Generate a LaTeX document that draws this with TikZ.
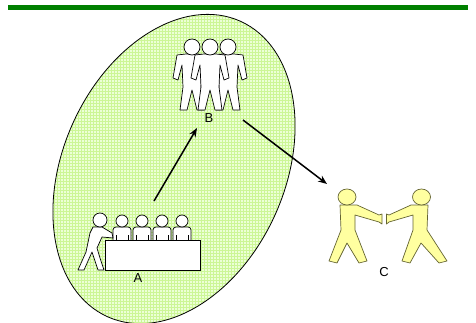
\documentclass[tikz,border=0pt]{standalone}
\usepackage{fontspec}
\setmainfont{Liberation Sans}
\usetikzlibrary{arrows.meta, positioning}
\definecolor{barGreen}{RGB}{0,128,0}
\definecolor{areaFill}{RGB}{236,255,214}
\definecolor{areaGrid}{RGB}{204,246,150}
\definecolor{walkerFill}{RGB}{255,255,160}
\definecolor{walkerLine}{RGB}{100,100,50}

\begin{document}
\begin{tikzpicture}[
    x = 1pt, y = 1pt, > = Stealth,
    person/.style = {draw = black, fill = white, line width = 0.7pt, line join = round},
    walker/.style = {draw = walkerLine, fill = walkerFill, line width = 0.7pt, line join = round},
    desk/.style = {rectangle, draw, fill = white, line width = 0.7pt, inner sep = 0pt, minimum width = 95pt, minimum height = 30pt},
    tag/.style = {inner sep = 1pt, font = \fontsize{13}{15}\selectfont},
    flow/.style = {-{Stealth[length = 9pt, width = 7pt]}, line width = 1.5pt},
    % standing figure, origin in the middle of the head
    standing/.pic = {
        \draw [person] (-6,-7) -- (-15,-8) -- (-19,-31) -- (-14,-33) -- (-10,-18) -- (-9,-40)
            -- (-12,-63) -- (-5,-63) -- (0,-43) -- (5,-63) -- (12,-63) -- (9,-40)
            -- (10,-18) -- (14,-33) -- (19,-31) -- (15,-8) -- (6,-7) -- cycle;
        \draw [person] (0,0) circle [radius = 8pt];
    },
    % figure sitting behind the desk
    seated/.pic = {
        \draw [person] (-9,-20) -- (-9,-9) to [out = 90, in = 180] (-6,-6) -- (6,-6)
            to [out = 0, in = 90] (9,-9) -- (9,-20) -- cycle;
        \draw [line width = 0.7pt] (-6,-14) -- (-6,-19) (6,-14) -- (6,-19);
        \draw [person] (0,0) circle [radius = 6pt];
    },
    ]
    \useasboundingbox (0,0) rectangle (476,322);

    % top rule
    \fill [barGreen] (8,312) rectangle (468,317);

    % shaded region
    \begin{scope}
        \clip [rotate around = {65.8:(174,153)}] (174,153) ellipse [x radius = 162pt, y radius = 111pt];
        \fill [areaFill] (0,0) rectangle (476,322);
        \draw [areaGrid, line width = 0.5pt, step = 3pt] (0,0) grid (476,322);
    \end{scope}
    \draw [line width = 0.8pt, rotate around = {65.8:(174,153)}] (174,153) ellipse [x radius = 162pt, y radius = 111pt];

    % group standing together
    \pic at (192,275) {standing};
    \pic at (228,275) {standing};
    \pic at (210,275) {standing};
    \node [tag] (B) at (209,204) {B};

    % people at the desk
    \foreach \x in {122,142,162,182}
        \pic at (\x,101) {seated};
    \draw [person] (93,95) -- (102,95) -- (112,89) -- (113,84) -- (102,85) -- (97,74)
        -- (100,64) -- (104,52) -- (98,52) -- (94,64) -- (92,70) -- (84,52) -- (78,52)
        -- (86,70) -- (90,89) -- cycle;
    \draw [person] (100,102) circle [radius = 7pt];
    \node [desk] (table) at (152.5,67) {};
    \node [tag] (A) at (138,44) {A};

    % the two walkers
    \draw [walker] (340,117) -- (341,92) -- (329,61) -- (337,59) -- (347,79) -- (359,59)
        -- (367,61) -- (355,92) -- (355,107) -- (379,100) -- (382,98) -- (382,108)
        -- (379,107) -- (357,117) -- cycle;
    \draw [walker] (347,125) ellipse [x radius = 9pt, y radius = 8pt];
    \draw [walker] (428,117) -- (427,92) -- (447,61) -- (439,59) -- (421,79) -- (410,59)
        -- (402,61) -- (413,92) -- (413,107) -- (389,100) -- (386.5,98) -- (386.5,108)
        -- (389,107) -- (411,117) -- cycle;
    \draw [walker] (421.5,125) ellipse [x radius = 9pt, y radius = 8pt];
    \node [tag] (C) at (384,50) {C};

    % flow between the groups
    \coordinate (deskTop)   at (154,121);
    \coordinate (groupFoot) at (197,194);
    \coordinate (groupSide) at (243,202);
    \coordinate (pairHead)  at (327,138);
    \draw [flow] (deskTop) -- (groupFoot);
    \draw [flow] (groupSide) -- (pairHead);
\end{tikzpicture}
\end{document}
